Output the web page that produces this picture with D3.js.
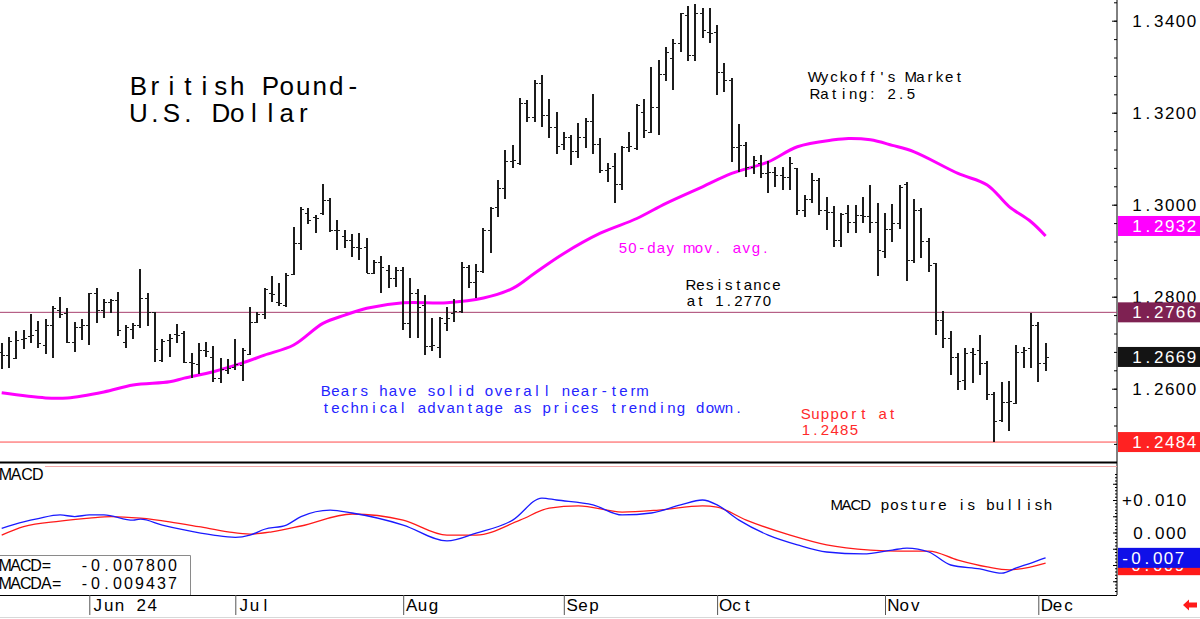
<!DOCTYPE html>
<html><head><meta charset="utf-8">
<script src="https://cdn.jsdelivr.net/npm/d3@7/dist/d3.min.js"></script>
<style>
body{margin:0;background:#fff}
svg{display:block}
text{font-family:"Liberation Sans",Arial,sans-serif}
</style>
</head><body>
<svg id="chart" width="1200" height="619"></svg>
<script>
// ---------------- DATA ----------------
const openP = [1.2680,1.2673,1.2666,1.2708,1.2715,1.2728,1.2695,1.2738,1.2771,1.2764,1.2701,1.2735,1.2738,1.2807,1.2771,1.2789,1.2793,1.2701,1.2730,1.2738,1.2798,1.2766,1.2662,1.2706,1.2720,1.2722,1.2659,1.2654,1.2684,1.2670,1.2623,1.2641,1.2648,1.2652,1.2675,1.2746,1.2762,1.2807,1.2789,1.2782,1.2849,1.2916,1.2981,1.2974,1.2981,1.3010,1.2946,1.2931,1.2923,1.2909,1.2909,1.2851,1.2876,1.2858,1.2840,1.2857,1.2742,1.2807,1.2782,1.2693,1.2691,1.2742,1.2764,1.2768,1.2864,1.2831,1.2855,1.2945,1.2994,1.3036,1.3094,1.3090,1.3220,1.3191,1.3264,1.3195,1.3170,1.3133,1.3148,1.3117,1.3148,1.3181,1.3133,1.3075,1.3085,1.3046,1.3126,1.3123,1.3202,1.3159,1.3213,1.3284,1.3318,1.3351,1.3412,1.3325,1.3416,1.3375,1.3375,1.3289,1.3271,1.3125,1.3130,1.3083,1.3090,1.3068,1.3072,1.3064,1.3060,1.3079,1.2988,1.3012,1.3054,1.2988,1.2985,1.2923,1.2981,1.2963,1.2978,1.2975,1.2962,1.2899,1.2947,1.2960,1.3045,1.2880,1.2989,1.2921,1.2873,1.2749,1.2710,1.2669,1.2619,1.2680,1.2684,1.2656,1.2588,1.2532,1.2571,1.2569,1.2680,1.2688,1.2738,1.2656];
const highP = [1.2699,1.2713,1.2725,1.2728,1.2762,1.2747,1.2751,1.2780,1.2800,1.2775,1.2746,1.2751,1.2809,1.2818,1.2796,1.2796,1.2811,1.2738,1.2742,1.2860,1.2807,1.2766,1.2708,1.2720,1.2740,1.2725,1.2677,1.2699,1.2702,1.2693,1.2666,1.2664,1.2708,1.2688,1.2778,1.2767,1.2818,1.2845,1.2829,1.2851,1.2951,1.2996,1.2992,1.2978,1.3045,1.3014,1.2967,1.2945,1.2936,1.2938,1.2927,1.2880,1.2889,1.2868,1.2865,1.2864,1.2840,1.2816,1.2804,1.2753,1.2755,1.2778,1.2794,1.2876,1.2869,1.2871,1.2949,1.2996,1.3054,1.3120,1.3130,1.3231,1.3228,1.3271,1.3282,1.3229,1.3202,1.3159,1.3152,1.3177,1.3188,1.3240,1.3146,1.3090,1.3113,1.3128,1.3159,1.3219,1.3230,1.3300,1.3315,1.3342,1.3360,1.3417,1.3432,1.3436,1.3427,1.3428,1.3391,1.3308,1.3275,1.3175,1.3137,1.3106,1.3108,1.3094,1.3083,1.3083,1.3103,1.3080,1.3021,1.3070,1.3057,1.3017,1.2997,1.2983,1.2999,1.2999,1.3017,1.3043,1.3004,1.2982,1.3002,1.3043,1.3049,1.3012,1.2993,1.2928,1.2874,1.2769,1.2725,1.2678,1.2688,1.2688,1.2717,1.2660,1.2593,1.2615,1.2617,1.2695,1.2691,1.2765,1.2745,1.2699];
const lowP  = [1.2643,1.2644,1.2665,1.2686,1.2700,1.2688,1.2675,1.2666,1.2753,1.2699,1.2679,1.2706,1.2694,1.2742,1.2754,1.2764,1.2715,1.2688,1.2708,1.2733,1.2737,1.2657,1.2659,1.2670,1.2699,1.2655,1.2623,1.2633,1.2670,1.2615,1.2613,1.2632,1.2641,1.2617,1.2673,1.2742,1.2751,1.2789,1.2780,1.2778,1.2848,1.2902,1.2958,1.2938,1.2978,1.2940,1.2902,1.2905,1.2887,1.2880,1.2851,1.2849,1.2807,1.2818,1.2822,1.2728,1.2710,1.2710,1.2673,1.2681,1.2666,1.2726,1.2746,1.2764,1.2818,1.2797,1.2851,1.2894,1.2974,1.3012,1.3079,1.3086,1.3180,1.3180,1.3168,1.3144,1.3110,1.3118,1.3086,1.3101,1.3123,1.3110,1.3070,1.3050,1.3003,1.3032,1.3115,1.3120,1.3146,1.3155,1.3152,1.3270,1.3249,1.3333,1.3313,1.3313,1.3362,1.3352,1.3239,1.3245,1.3093,1.3072,1.3061,1.3067,1.3057,1.3025,1.3039,1.3032,1.3032,1.2978,1.2974,1.3003,1.2978,1.2945,1.2909,1.2909,1.2938,1.2939,1.2960,1.2939,1.2845,1.2884,1.2919,1.2947,1.2834,1.2873,1.2884,1.2854,1.2717,1.2688,1.2630,1.2597,1.2597,1.2612,1.2630,1.2575,1.2484,1.2528,1.2508,1.2567,1.2645,1.2645,1.2615,1.2638];
const closeP= [1.2673,1.2704,1.2706,1.2710,1.2717,1.2699,1.2738,1.2775,1.2762,1.2701,1.2735,1.2738,1.2807,1.2771,1.2789,1.2793,1.2728,1.2735,1.2738,1.2798,1.2766,1.2686,1.2704,1.2710,1.2717,1.2659,1.2655,1.2684,1.2681,1.2623,1.2642,1.2644,1.2653,1.2684,1.2746,1.2762,1.2816,1.2806,1.2787,1.2847,1.2916,1.2990,1.2967,1.2972,1.3010,1.2945,1.2945,1.2923,1.2909,1.2905,1.2852,1.2876,1.2865,1.2840,1.2858,1.2742,1.2807,1.2778,1.2693,1.2695,1.2753,1.2753,1.2768,1.2864,1.2831,1.2855,1.2945,1.2992,1.3036,1.3094,1.3097,1.3220,1.3190,1.3264,1.3195,1.3170,1.3128,1.3148,1.3117,1.3148,1.3181,1.3133,1.3075,1.3079,1.3046,1.3126,1.3128,1.3217,1.3162,1.3213,1.3284,1.3333,1.3351,1.3416,1.3325,1.3416,1.3380,1.3373,1.3289,1.3271,1.3125,1.3130,1.3083,1.3097,1.3068,1.3072,1.3065,1.3060,1.3090,1.2988,1.3012,1.3054,1.2988,1.2985,1.2923,1.2980,1.2963,1.2978,1.2975,1.2963,1.2902,1.2947,1.2960,1.3039,1.2880,1.2989,1.2921,1.2869,1.2749,1.2710,1.2669,1.2617,1.2678,1.2676,1.2656,1.2588,1.2530,1.2571,1.2573,1.2680,1.2684,1.2738,1.2656,1.2669];

// 50-day moving average, read at sample bars
const maIdx = [0,6,9,14,18,23,25,29,33,36,40,44,47,50,55,61,66,70,73,77,82,87,91,96,100,105,109,114,116,119,122,125,131,135,138,141,143];
const maVal = [1.2591,1.2580,1.2580,1.2593,1.2608,1.2615,1.2623,1.2637,1.2656,1.2673,1.2695,1.2742,1.2760,1.2775,1.2787,1.2787,1.2797,1.2818,1.2851,1.2894,1.2938,1.2970,1.3003,1.3039,1.3068,1.3093,1.3126,1.3141,1.3144,1.3141,1.3129,1.3115,1.3068,1.3043,1.2996,1.2963,1.2932];

// MACD (blue) and MACDA signal (red), read at sample bars
const macdIdx = [0,3,5,8,10,12,14,18,19,22,25,29,32,34,36,39,41,45,48,55,61,65,70,74,76,81,85,89,93,96,98,101,105,109,113,118,122,124,127,130,134,137,139,141,143];
const macdVal = [0.0013,0.0033,0.0043,0.0054,0.0049,0.0054,0.0054,0.0038,0.0041,0.0023,0.0008,-0.0008,-0.0015,-0.0008,0.0010,0.0023,0.0049,0.0069,0.0060,0.0023,-0.0026,-0.0002,0.0038,0.0106,0.0100,0.0085,0.0054,0.0060,0.0085,0.0100,0.0085,0.0038,-0.0008,-0.0038,-0.0060,-0.0066,-0.0054,-0.0048,-0.0060,-0.0100,-0.0112,-0.0125,-0.0109,-0.0094,-0.0078];
const sigIdx = [0,3,8,12,15,19,23,27,31,34,37,41,48,55,61,65,71,75,79,85,90,96,98,102,108,113,119,123,127,131,135,138,143];
const sigVal = [-0.0008,0.0018,0.0035,0.0044,0.0049,0.0044,0.0033,0.0018,0.0002,-0.0005,0.0002,0.0020,0.0057,0.0038,-0.0008,-0.0008,0.0038,0.0075,0.0082,0.0063,0.0069,0.0082,0.0078,0.0038,-0.0008,-0.0038,-0.0054,-0.0057,-0.0057,-0.0085,-0.0106,-0.0115,-0.0094];

const monthLabels = ["Jun 24","Jul","Aug","Sep","Oct","Nov","Dec"];
const monthStartIdx = [12,32,55,77,98,121,142];
const priceTicks = [1.34,1.32,1.30,1.28,1.26];
const macdTicks = [0.010,0.000];
const resistanceLevel = 1.2766, supportLevel = 1.2484, lastClose = 1.2669, maLast = 1.2932;
const macdLast = -0.007800, macdaLast = -0.009437;

// ---------------- SCALES ----------------
const N = closeP.length;
const svg = d3.select("#chart");
const x = d3.scaleLinear().domain([0, N-1]).range([1.7, 1045.6]);
const y = d3.scaleLinear().domain([1.34, 1.26]).range([20.7, 388.7]);
const yM = d3.scaleLinear().domain([0.01, 0]).range([500, 532.5]);
const AXIS_X = 1117;

// monospace-cell text helper (Arial glyphs centred in fixed cells)
function mono(g, str, x0, yb, adv, size, color, anchor) {
  const chars = [], xs = [];
  const start = anchor === "end" ? x0 - adv*str.length : x0;
  [...str].forEach((c,k)=>{ if (c !== " ") { chars.push(c); xs.push((start + adv*(k+0.5)).toFixed(1)); } });
  return g.append("text").attr("x", xs.join(" ")).attr("y", yb)
    .attr("text-anchor","middle").attr("font-size", size).attr("fill", color).text(chars.join(""));
}
// truncated 3-decimal format, as the original's value boxes show
const trunc3 = v => { const t = Math.trunc(v*1000)/1000; return (v<0?"-":"") + Math.abs(t).toFixed(3); };

// ---------------- FRAME ----------------
svg.append("line").attr("x1",0).attr("x2",1200).attr("y1",617.5).attr("y2",617.5).attr("stroke","#d8d8d8");
svg.append("line").attr("x1",AXIS_X).attr("x2",AXIS_X).attr("y1",0).attr("y2",595).attr("stroke","#000").attr("stroke-width",1);
svg.append("line").attr("x1",0).attr("x2",AXIS_X).attr("y1",462.5).attr("y2",462.5).attr("stroke","#000").attr("stroke-width",2);
svg.append("line").attr("x1",45).attr("x2",AXIS_X).attr("y1",466.5).attr("y2",466.5).attr("stroke","#f3a8a8").attr("stroke-width",1);
svg.append("line").attr("x1",0).attr("x2",AXIS_X).attr("y1",595.5).attr("y2",595.5).attr("stroke","#000").attr("stroke-width",1);

// price axis ticks
const minorP = d3.range(1.248, 1.3441, 0.004);
svg.append("g").attr("transform",`translate(${AXIS_X},0)`)
  .call(d3.axisRight(y).tickValues(minorP).tickSize(-3).tickSizeOuter(0).tickFormat(""))
  .call(g=>g.select(".domain").remove());
svg.append("g").attr("transform",`translate(${AXIS_X},0)`)
  .call(d3.axisRight(y).tickValues(priceTicks).tickSize(-5).tickSizeOuter(0).tickFormat(""))
  .call(g=>g.select(".domain").remove());
priceTicks.forEach(v=> mono(svg, d3.format(".4f")(v), 1197, y(v)+6, 10.9, 17, "#000", "end"));

// MACD axis ticks
const minorM = d3.range(-0.018, 0.0181, 0.001).filter(v=>yM(v)>468 && yM(v)<594);
svg.append("g").attr("transform",`translate(${AXIS_X},0)`)
  .call(d3.axisRight(yM).tickValues(minorM).tickSize(-2).tickSizeOuter(0).tickFormat(""))
  .call(g=>g.select(".domain").remove());
svg.append("g").attr("transform",`translate(${AXIS_X},0)`)
  .call(d3.axisRight(yM).tickValues([-0.015,-0.01,-0.005,0,0.005,0.01,0.015].filter(v=>yM(v)>468&&yM(v)<594)).tickSize(-4).tickSizeOuter(0).tickFormat(""))
  .call(g=>g.select(".domain").remove());
macdTicks.forEach(v=> mono(svg, (v>0?"+":"") + d3.format(".3f")(v), 1187, yM(v)+6, 10.9, 17, "#000", "end"));

// x axis (month separators)
svg.append("g").attr("transform","translate(0,595)")
  .call(d3.axisBottom(x).tickValues(monthStartIdx).tickSize(20).tickSizeOuter(0).tickFormat(""))
  .call(g=>g.select(".domain").remove())
  .call(g=>g.selectAll("line").attr("stroke","#555"));
monthStartIdx.forEach((i,k)=> mono(svg, monthLabels[k], x(i)+3, 611, 10.9, 17, "#000"));

// ---------------- REFERENCE LINES ----------------
svg.append("line").attr("x1",0).attr("x2",AXIS_X).attr("y1",y(resistanceLevel)).attr("y2",y(resistanceLevel)).attr("stroke","#a8406e").attr("stroke-width",1);
svg.append("line").attr("x1",0).attr("x2",AXIS_X).attr("y1",y(supportLevel)).attr("y2",y(supportLevel)).attr("stroke","#ff4a4a").attr("stroke-width",1);

// ---------------- MOVING AVERAGE ----------------
const maPts = maIdx.map((i,k)=>({i, v:maVal[k]}));
svg.append("path").datum(maPts)
  .attr("d", d3.line().x(d=>x(d.i)).y(d=>y(d.v)).curve(d3.curveCatmullRom.alpha(0.5)))
  .attr("fill","none").attr("stroke","#ff00ff").attr("stroke-width",3);

// ---------------- OHLC BARS ----------------
const idx = d3.range(N);
const bars = svg.append("g").attr("shape-rendering","crispEdges");
bars.selectAll("line.hl").data(idx).join("line").attr("class","hl")
  .attr("x1",i=>Math.round(x(i))).attr("x2",i=>Math.round(x(i)))
  .attr("y1",i=>y(highP[i])).attr("y2",i=>y(lowP[i]))
  .attr("stroke","#1c1c1c").attr("stroke-width",2);
bars.selectAll("line.o").data(idx).join("line").attr("class","o")
  .attr("x1",i=>Math.round(x(i))-3).attr("x2",i=>Math.round(x(i)))
  .attr("y1",i=>Math.round(y(openP[i]))+0.5).attr("y2",i=>Math.round(y(openP[i]))+0.5)
  .attr("stroke","#1c1c1c").attr("stroke-width",1);
bars.selectAll("line.c").data(idx).join("line").attr("class","c")
  .attr("x1",i=>Math.round(x(i))).attr("x2",i=>Math.round(x(i))+3)
  .attr("y1",i=>Math.round(y(closeP[i]))+0.5).attr("y2",i=>Math.round(y(closeP[i]))+0.5)
  .attr("stroke","#1c1c1c").attr("stroke-width",1);

// ---------------- MACD ----------------
const sigPts = sigIdx.map((i,k)=>({i, v:sigVal[k]}));
const macdPts = macdIdx.map((i,k)=>({i, v:macdVal[k]}));
const mLine = d3.line().x(d=>x(d.i)).y(d=>yM(d.v)).curve(d3.curveMonotoneX);
svg.append("path").datum(sigPts).attr("d",mLine).attr("fill","none").attr("stroke","#ff1a1a").attr("stroke-width",1.3);
svg.append("path").datum(macdPts).attr("d",mLine).attr("fill","none").attr("stroke","#1a1aff").attr("stroke-width",1.3);

// MACD legend box
svg.append("path").attr("d","M0,555.5 H190.5 V595").attr("fill","none").attr("stroke","#8a8a8a");
mono(svg, "MACD=", 0, 571, 10.3, 16, "#000");
mono(svg, "MACDA=", 0, 589, 10.3, 16, "#000");
mono(svg, d3.format(".6f")(macdLast).replace("−","-"), 178, 571, 11, 16, "#000", "end");
mono(svg, d3.format(".6f")(macdaLast).replace("−","-"), 178, 589, 11, 16, "#000", "end");
mono(svg, "MACD", 0, 480, 10.8, 16, "#000");

// ---------------- RIGHT VALUE BOXES ----------------
function valBox(yc, fill, txt, right) {
  svg.append("rect").attr("x",AXIS_X+1).attr("y",yc-10).attr("width",1200-AXIS_X-1).attr("height",20).attr("fill",fill);
  mono(svg, txt, right, yc+6, 10.9, 17, "#fff", "end");
}
valBox(y(maLast)-10, "#ff00ff", d3.format(".4f")(maLast), 1197);
valBox(y(resistanceLevel), "#7e2152", d3.format(".4f")(resistanceLevel), 1197);
valBox(y(lastClose), "#141414", d3.format(".4f")(lastClose), 1197);
valBox(y(supportLevel), "#ff2222", d3.format(".4f")(supportLevel), 1197);
valBox(yM(macdaLast)+2, "#ff1a1a", trunc3(macdaLast), 1185);
valBox(yM(macdLast), "#1010e8", trunc3(macdLast), 1185);

// ---------------- ANNOTATIONS ----------------
mono(svg, "British Pound-", 130, 95, 16.5, 26, "#000");
mono(svg, "U.S. Dollar", 130, 122, 16.5, 26, "#000");
mono(svg, "Wyckoff's Market", 810, 81.5, 9.6, 15, "#000");
mono(svg, "Rating: 2.5", 810, 98.5, 9.6, 15, "#000");
mono(svg, "50-day mov. avg.", 618, 253, 9.5, 15, "#ff00ff");
mono(svg, "Resistance", 686, 290, 9.5, 15, "#000");
mono(svg, "at 1.2770", 686, 306, 9.5, 15, "#000");
mono(svg, "Bears have solid overall near-term", 321, 396, 9.6, 15, "#2424ff");
mono(svg, "technical advantage as prices trending down.", 321, 413, 9.6, 15, "#2424ff");
mono(svg, "Support at", 801, 419, 9.6, 15, "#ff2a2a");
mono(svg, "1.2485", 801, 435, 9.6, 15, "#ff2a2a");
mono(svg, "MACD posture is bullish", 832, 510, 9.6, 15, "#000");

// red arrow bottom-right
svg.append("path").attr("d","M1183,605 L1189,599.5 L1189,602.5 L1197,602.5 L1197,607.5 L1189,607.5 L1189,610.5 Z").attr("fill","#ff1a1a");
</script>
</body></html>
